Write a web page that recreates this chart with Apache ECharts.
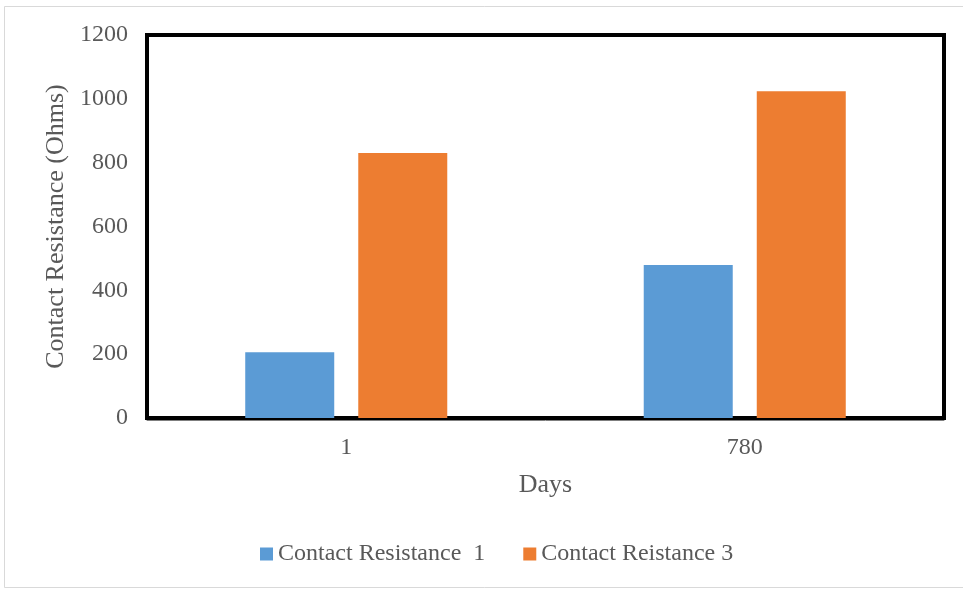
<!DOCTYPE html>
<html>
<head>
<meta charset="utf-8">
<style>
  html, body { margin: 0; padding: 0; background: #ffffff; }
  #chart { width: 963px; height: 589px; }
</style>
<script src="https://cdn.jsdelivr.net/npm/echarts@6/dist/echarts.min.js"></script>
</head>
<body>
<div id="chart"></div>
<script>
// Contact resistance measured on day 1 and day 780
const days = ['1', '780'];
const seriesNames = ['Contact Resistance  1', 'Contact Reistance 3'];
const resistance1 = [206, 479];
const resistance3 = [830, 1024];
const yTicks = { min: 0, max: 1200, step: 200 };

const font = 'Liberation Serif, Times New Roman, serif';
const textGray = '#595959';

const chart = echarts.init(document.getElementById('chart'), null, { renderer: 'canvas' });

chart.setOption({
  backgroundColor: '#ffffff',
  animation: false,
  graphic: [{
    type: 'rect',
    shape: { x: 4.5, y: 6.5, width: 970, height: 581 },
    style: { fill: 'none', stroke: '#d9d9d9', lineWidth: 1 },
    silent: true,
    z: -10
  }],
  grid: {
    left: 147, right: 19, top: 35, bottom: 171,
    show: true,
    borderColor: '#000000',
    borderWidth: 4,
    backgroundColor: 'transparent'
  },
  legend: {
    bottom: 18,
    left: 255,
    itemWidth: 13,
    itemHeight: 13,
    itemGap: 38,
    icon: 'rect',
    textStyle: { fontFamily: font, fontSize: 24, color: textGray }
  },
  xAxis: {
    type: 'category',
    data: days,
    name: 'Days',
    nameLocation: 'middle',
    nameGap: 52,
    nameTextStyle: { fontFamily: font, fontSize: 26, color: textGray },
    axisLine: { show: true, onZero: false, lineStyle: { color: '#7f7f7f', width: 1 } },
    offset: 2,
    axisTick: { show: false },
    axisLabel: { fontFamily: font, fontSize: 24, color: textGray, margin: 16 }
  },
  yAxis: {
    type: 'value',
    min: yTicks.min,
    max: yTicks.max,
    interval: yTicks.step,
    name: 'Contact Resistance (Ohms)',
    nameLocation: 'middle',
    nameGap: 76,
    nameTextStyle: { fontFamily: font, fontSize: 26, color: textGray },
    axisLine: { show: false },
    axisTick: { show: false },
    splitLine: { show: false },
    axisLabel: {
      fontFamily: font, fontSize: 24, color: textGray, margin: 19,
      formatter: (v) => String(v)
    }
  },
  series: [
    {
      name: seriesNames[0],
      type: 'bar',
      data: resistance1,
      barWidth: 89,
      barGap: '27%',
      itemStyle: { color: '#5b9bd5' }
    },
    {
      name: seriesNames[1],
      type: 'bar',
      data: resistance3,
      barWidth: 89,
      barGap: '27%',
      itemStyle: { color: '#ed7d31' }
    }
  ]
});
</script>
</body>
</html>
